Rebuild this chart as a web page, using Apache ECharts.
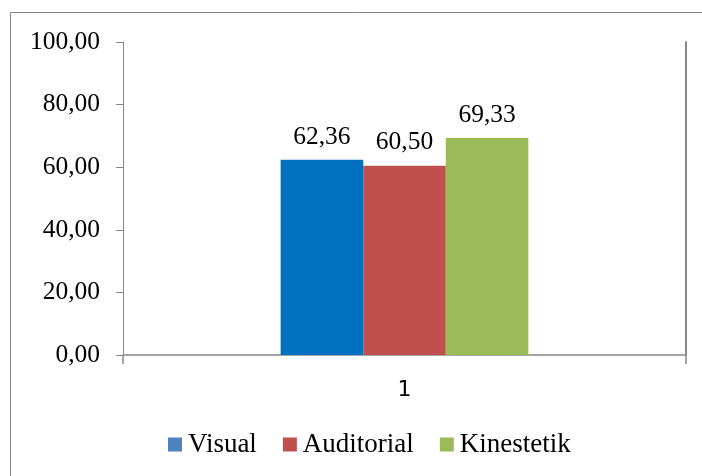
<!DOCTYPE html>
<html>
<head>
<meta charset="utf-8">
<script src="https://cdn.jsdelivr.net/npm/echarts@6/dist/echarts.min.js"></script>
<style>
  html, body { margin: 0; padding: 0; background: #fff; }
  #chart { width: 702px; height: 476px; }
</style>
</head>
<body>
<div id="chart"></div>
<script>
// Learning-style scores per group
const categories = ['1'];
const seriesNames = ['Visual', 'Auditorial', 'Kinestetik'];
const visualValues = [62.36];
const auditorialValues = [60.50];
const kinestetikValues = [69.33];
const yTicks = [0, 20, 40, 60, 80, 100];

const barColors = ['#0070C0', '#C0504D', '#9BBB59'];
const legendColors = ['#4F81BD', '#C0504D', '#9BBB59'];
const serifFont = 'Liberation Serif';
const textSize = 25.5;

const fmt = v => v.toFixed(2).replace('.', ',');

const chart = echarts.init(document.getElementById('chart'), null, { renderer: 'canvas' });

const valueSets = [visualValues, auditorialValues, kinestetikValues];

chart.setOption({
  animation: false,
  backgroundColor: '#fff',
  graphic: [{
    type: 'rect',
    shape: { x: 10.5, y: 12.5, width: 700, height: 470 },
    style: { fill: 'none', stroke: '#888', lineWidth: 1 },
    silent: true
  }],
  grid: { left: 123, right: 16, top: 42, bottom: 121 },
  legend: {
    top: 431,
    left: 168,
    padding: 0,
    itemWidth: 14,
    itemHeight: 14,
    itemGap: 26,
    icon: 'rect',
    textStyle: { fontFamily: serifFont, fontSize: 27, color: '#000', padding: [0, 0, 0, 1] },
    data: seriesNames.map((n, i) => ({ name: n, itemStyle: { color: legendColors[i] } }))
  },
  xAxis: {
    type: 'category',
    data: categories,
    axisLine: { lineStyle: { color: '#888', width: 1.5 } },
    axisTick: { show: true, alignWithLabel: false, length: 9, lineStyle: { color: '#888', width: 1.5 } },
    axisLabel: { fontFamily: 'DejaVu Sans', fontSize: 22, color: '#000', margin: 24 }
  },
  yAxis: [{
    type: 'value',
    min: yTicks[0],
    max: yTicks[yTicks.length - 1],
    interval: 20,
    axisLine: { show: true, lineStyle: { color: '#888', width: 1 } },
    axisTick: { show: true, length: 7, lineStyle: { color: '#888' } },
    splitLine: { show: false },
    axisLabel: {
      fontFamily: serifFont, fontSize: textSize, color: '#000', margin: 23,
      formatter: v => fmt(v)
    }
  }, {
    type: 'value',
    position: 'right',
    min: yTicks[0],
    max: yTicks[yTicks.length - 1],
    interval: 20,
    axisLine: { show: true, lineStyle: { color: '#888', width: 2 } },
    axisTick: { show: false },
    axisLabel: { show: false },
    splitLine: { show: false }
  }],
  series: seriesNames.map((name, i) => ({
    name,
    type: 'bar',
    yAxisIndex: 0,
    data: valueSets[i],
    barGap: '0%',
    barCategoryGap: '56%',
    itemStyle: { color: barColors[i] },
    label: {
      show: true,
      position: 'top',
      distance: 10,
      fontFamily: serifFont,
      fontSize: textSize,
      color: '#000',
      formatter: p => fmt(p.value)
    }
  }))
});
</script>
</body>
</html>
